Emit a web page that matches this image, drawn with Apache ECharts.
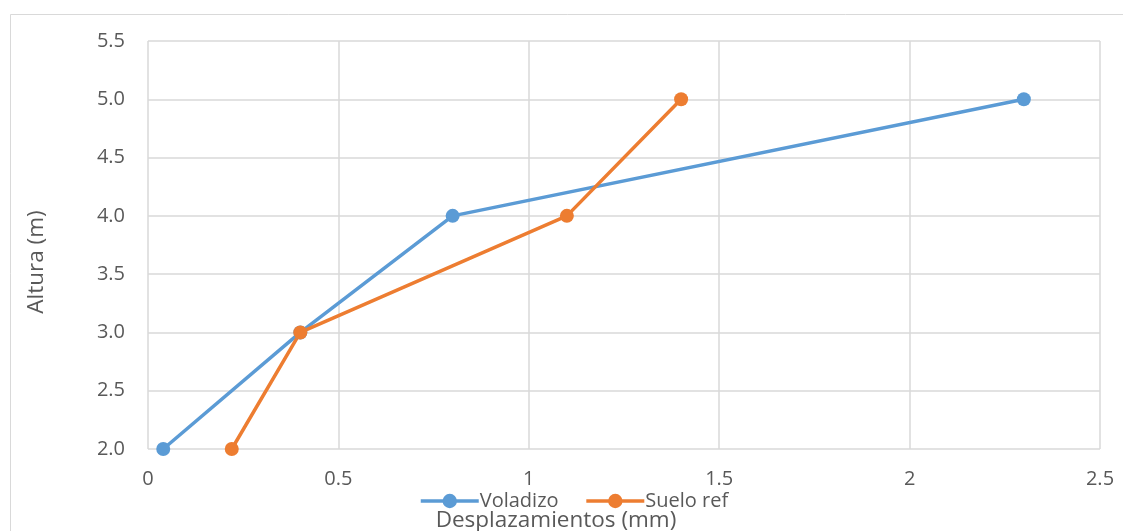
<!DOCTYPE html>
<html>
<head>
<meta charset="utf-8">
<style>
  html, body { margin: 0; padding: 0; background: #ffffff; }
  #chart { width: 1123px; height: 531px; }
</style>
<script src="https://cdn.jsdelivr.net/npm/echarts@6/dist/echarts.min.js"></script>
</head>
<body>
<div id="chart"></div>
<script>
// Lateral displacement (mm) at each height (m)
const alturas = [2.0, 3.0, 4.0, 5.0];
const voladizo = [0.04, 0.4, 0.8, 2.3];
const sueloRef = [0.22, 0.4, 1.1, 1.4];
const seriesNames = ['Voladizo', 'Suelo ref'];
const colors = ['#5b9bd5', '#ed7d31'];

const font = '"Open Sans", "Liberation Sans", sans-serif';
const chart = echarts.init(document.getElementById('chart'), null, { renderer: 'canvas' });

function pairs(xs) {
  return xs.map((x, i) => [x, alturas[i]]);
}

chart.setOption({
  animation: false,
  backgroundColor: '#ffffff',
  graphic: [{
    type: 'rect',
    shape: { x: 10.5, y: 14.5, width: 1130, height: 530 },
    style: { fill: 'none', stroke: '#d9d9d9', lineWidth: 1 },
    silent: true,
    z: -1
  }],
  grid: { left: 148, right: 23, top: 41, bottom: 82, containLabel: false, outerBoundsMode: 'none' },
  legend: {
    data: seriesNames,
    left: 414,
    top: 486,
    itemWidth: 58,
    itemHeight: 18,
    itemGap: 26,
    lineStyle: { width: 3.5 },
    textStyle: { color: '#595959', fontSize: 20, fontFamily: font, padding: [0, 0, 0, -4] }
  },
  xAxis: {
    type: 'value',
    min: 0,
    max: 2.5,
    interval: 0.5,
    name: 'Desplazamientos (mm)',
    nameLocation: 'middle',
    nameGap: 60,
    nameTextStyle: { color: '#595959', fontSize: 22.5, fontFamily: font, padding: [0, 136, 0, 0] },
    axisLine: { show: false },
    axisTick: { show: false },
    axisLabel: { color: '#595959', fontSize: 20, fontFamily: font, margin: 20 },
    splitLine: { show: true, lineStyle: { color: '#d9d9d9', width: 1.5 } }
  },
  yAxis: {
    type: 'value',
    min: 2.0,
    max: 5.5,
    interval: 0.5,
    name: 'Altura (m)',
    nameLocation: 'middle',
    nameGap: 100,
    nameRotate: 90,
    nameTextStyle: { color: '#595959', fontSize: 22.5, fontFamily: font, padding: [0, 34, 0, 0] },
    axisLine: { show: false },
    axisTick: { show: false },
    axisLabel: {
      color: '#595959', fontSize: 20, fontFamily: font, margin: 23,
      formatter: v => v.toFixed(1)
    },
    splitLine: { show: true, lineStyle: { color: '#d9d9d9', width: 1.5 } }
  },
  series: [
    {
      name: seriesNames[0],
      type: 'line',
      data: pairs(voladizo),
      symbol: 'circle',
      symbolSize: 14,
      color: colors[0],
      lineStyle: { width: 3.5, color: colors[0] },
      itemStyle: { color: colors[0] }
    },
    {
      name: seriesNames[1],
      type: 'line',
      data: pairs(sueloRef),
      symbol: 'circle',
      symbolSize: 14,
      color: colors[1],
      lineStyle: { width: 3.5, color: colors[1] },
      itemStyle: { color: colors[1] }
    }
  ]
});
</script>
</body>
</html>
